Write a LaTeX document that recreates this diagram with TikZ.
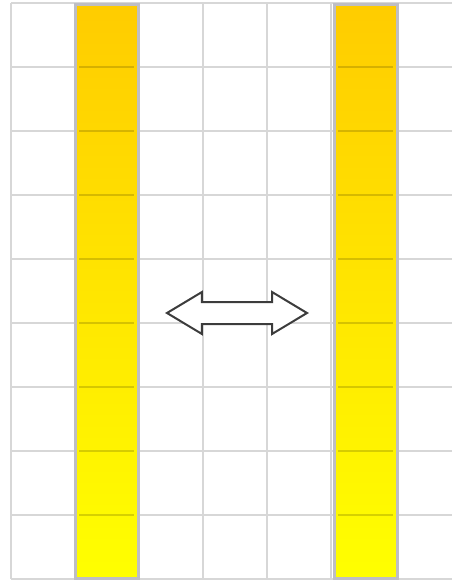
\documentclass[tikz,border=0pt]{standalone}
\usepackage{xcolor}
\usepackage{tikz}
\usetikzlibrary{shapes.arrows}

\definecolor{gridgray}{RGB}{215,215,215}
\definecolor{bargray}{RGB}{190,190,196}
\definecolor{barTop}{RGB}{255,204,0}
\definecolor{barBottom}{RGB}{255,255,0}
\definecolor{arrowgray}{RGB}{60,60,60}

\begin{document}
\begin{tikzpicture}[
        x=1pt, y=-1pt,
        gridline/.style={draw=gridgray, line width=2pt},
        bar/.style={rectangle, draw=bargray, line width=3pt,
                    top color=barTop, bottom color=barBottom,
                    minimum width=63pt, minimum height=574pt, inner sep=0pt},
        rung/.style={draw=black, draw opacity=0.16, line width=2pt},
        swap/.style={double arrow, draw=arrowgray, fill=white, line width=2pt,
                     minimum height=140pt, inner xsep=0pt, inner ysep=10pt,
                     double arrow head extend=10pt, double arrow tip angle=62},
    ]
        \useasboundingbox (0,0) rectangle (452,582);
        % background grid
        \foreach \y in {3,67,...,579}
            \draw[gridline] (11,\y) -- (452,\y);
        \foreach \x in {11,75,...,395}
            \draw[gridline] (\x,3) -- (\x,579);
        % the two bars
        \node[bar] (barL) at (106.5,291) {};
        \node[bar] (barR) at (365.5,291) {};
        \foreach \y in {67,131,...,515} {
            \draw[rung] (79,\y) -- (134,\y);
            \draw[rung] (338,\y) -- (393,\y);
        }
        % arrow between them
        \node[swap] (swapArrow) at (237,313) {};
    \end{tikzpicture}
\end{document}
